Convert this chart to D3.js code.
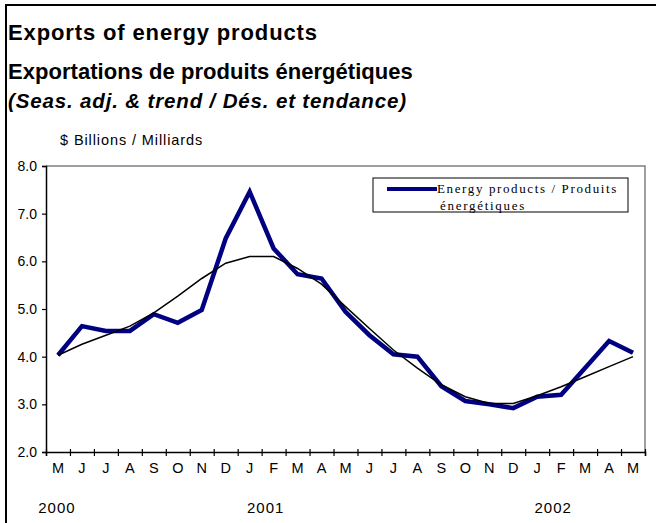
<!DOCTYPE html>
<html><head><meta charset="utf-8">
<script src="https://cdn.jsdelivr.net/npm/d3@7"></script>
<style>body{margin:0;background:#fff}svg{display:block}</style>
</head><body>
<svg id="c" width="656" height="523"></svg>
<script>
const months = ["M","J","J","A","S","O","N","D","J","F","M","A","M","J","J","A","S","O","N","D","J","F","M","A","M"];
const energy = [4.03,4.64,4.54,4.54,4.89,4.71,4.98,6.48,7.46,6.27,5.73,5.64,4.94,4.45,4.05,4.00,3.38,3.07,3.00,2.92,3.16,3.20,3.76,4.33,4.08];
const trend  = [4.03,4.26,4.45,4.64,4.92,5.27,5.64,5.96,6.10,6.10,5.85,5.52,5.05,4.59,4.14,3.76,3.41,3.16,3.02,3.02,3.18,3.37,3.58,3.79,4.00];
const yTicks = [2,3,4,5,6,7,8];
const years = [{label:"2000", idx:0},{label:"2001", idx:8},{label:"2002", idx:20}];
const titles = ["Exports of energy products","Exportations de produits énergétiques","(Seas. adj. & trend / Dés. et tendance)"];
const unitLabel = "$ Billions / Milliards";
const legendText = ["Energy products / Produits","énergétiques"];

const svg = d3.select("#c");
const L=46, R=645, T=166, B=452;
const x = d3.scaleBand().domain(d3.range(months.length)).range([L,R]);
const xb = d3.scaleLinear().domain([0,months.length]).range([L,R]);
const y = d3.scaleLinear().domain([2,8]).range([B,T]);
const cx = i => x(i)+x.bandwidth()/2;

function fit(sel, w){
  const n = sel.text().length;
  const cur = sel.node().getComputedTextLength();
  sel.attr("letter-spacing", ((w-cur)/(n)).toFixed(2));
}

// outer frame
svg.append("path").attr("d","M6,523 V5 H656").attr("fill","none").attr("stroke","#000").attr("stroke-width",2);

// titles
const ff = "Liberation Sans, Arial, sans-serif";
const t1 = svg.append("text").attr("x",8).attr("y",40).attr("font-family",ff).attr("font-weight","bold").attr("font-size",22).text(titles[0]);
fit(t1,310);
const t2 = svg.append("text").attr("x",8).attr("y",79).attr("font-family",ff).attr("font-weight","bold").attr("font-size",22).text(titles[1]);
fit(t2,405);
const t3 = svg.append("text").attr("x",8).attr("y",108).attr("font-family",ff).attr("font-weight","bold").attr("font-style","italic").attr("font-size",20.5).text(titles[2]);
fit(t3,399);
const t4 = svg.append("text").attr("x",60).attr("y",145).attr("font-family",ff).attr("font-size",14.5).text(unitLabel);
fit(t4,143);

// plot border (top/right)
svg.append("path").attr("d",`M${L},${T} H${R} V${B}`).attr("fill","none").attr("stroke","#808080").attr("stroke-width",1.5);

// y axis
const yAxis = svg.append("g").attr("transform",`translate(${L},0)`)
  .call(d3.axisLeft(y).tickValues(yTicks).tickSize(4).tickFormat(d3.format(".1f")));
yAxis.select(".domain").attr("stroke","#000").attr("stroke-width",1.5);
yAxis.selectAll(".tick line").attr("stroke","#000").attr("stroke-width",1.2);
yAxis.selectAll(".tick text").attr("font-family",ff).attr("font-size",14).attr("fill","#000").attr("x",-9);

// x axis
const xAxis = svg.append("g").attr("transform",`translate(0,${B})`)
  .call(d3.axisBottom(xb).tickValues(d3.range(months.length+1)).tickSize(4).tickFormat(""));
xAxis.select(".domain").attr("stroke","#000").attr("stroke-width",1.5);
xAxis.selectAll(".tick line").attr("stroke","#000").attr("stroke-width",1.2).attr("y1",-3).attr("y2",4);

// month labels
svg.append("g").selectAll("text").data(months).join("text")
  .attr("x",(d,i)=>cx(i)).attr("y",473).attr("text-anchor","middle")
  .attr("font-family",ff).attr("font-size",14.5).text(d=>d);

// year labels
svg.append("g").selectAll("text").data(years).join("text")
  .attr("x",d=>d.idx===0?cx(d.idx)-1:cx(d.idx)+16).attr("y",513).attr("text-anchor","middle")
  .attr("font-family",ff).attr("font-size",15).attr("letter-spacing",1).text(d=>d.label);

// lines
const line = d3.line().x((d,i)=>cx(i)).y(d=>y(d));
svg.append("path").datum(energy).attr("d",line).attr("fill","none").attr("stroke","#000080").attr("stroke-width",4.5).attr("stroke-linejoin","miter");
svg.append("path").datum(trend).attr("d",line).attr("fill","none").attr("stroke","#000").attr("stroke-width",1.5);

// legend
const lg = svg.append("g");
lg.append("rect").attr("x",373).attr("y",178).attr("width",255).attr("height",34).attr("fill","#fff").attr("stroke","#000").attr("stroke-width",1);
lg.append("line").attr("x1",387).attr("x2",437).attr("y1",189).attr("y2",189).attr("stroke","#000080").attr("stroke-width",4);
const lt1 = lg.append("text").attr("x",437).attr("y",193).attr("font-family","Liberation Serif, Times New Roman, serif").attr("font-size",13).text(legendText[0]);
fit(lt1,181);
const lt2 = lg.append("text").attr("x",440).attr("y",210).attr("font-family","Liberation Serif, Times New Roman, serif").attr("font-size",13).text(legendText[1]);
fit(lt2,86);
</script>
</body></html>
